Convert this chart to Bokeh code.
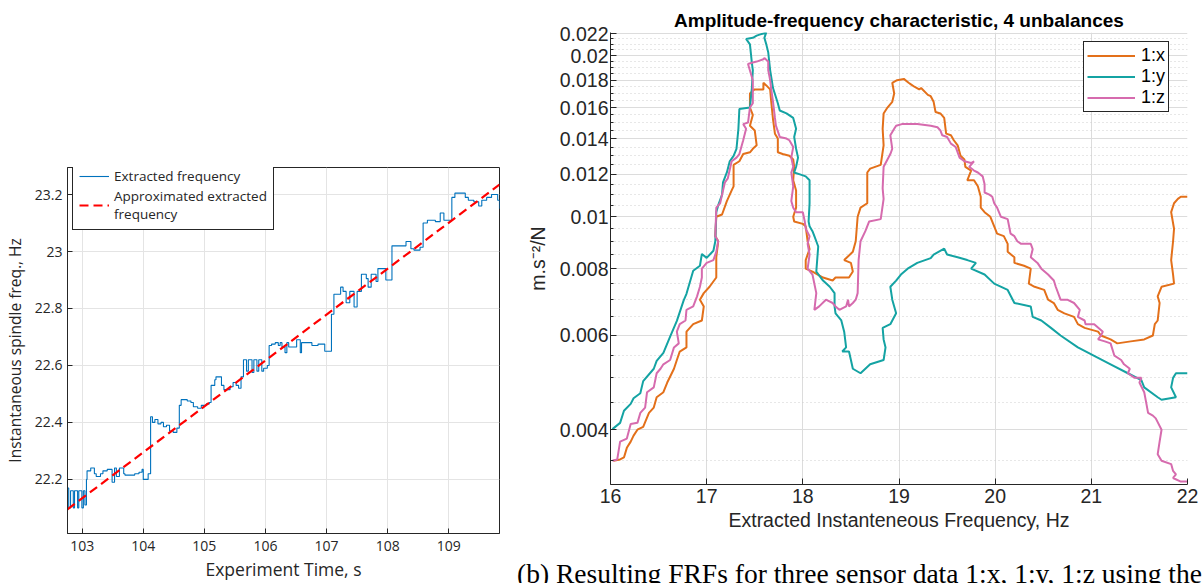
from bokeh.plotting import figure
from bokeh.models import (FixedTicker, CustomJSTickFormatter, Legend, LegendItem,
                          Div, Range1d)
from bokeh.layouts import row, column
from bokeh.embed import file_html
from bokeh.resources import INLINE

# ---------------- Left panel data ----------------
left_xticks = [103, 104, 105, 106, 107, 108, 109]
left_yticks = [22.2, 22.4, 22.6, 22.8, 23.0, 23.2]

t_blue = [102.76, 102.78, 102.81, 102.855, 102.875, 102.925, 102.945, 102.995, 103.02, 103.045,
          103.07, 103.08, 103.14, 103.20, 103.23, 103.30, 103.34, 103.41, 103.49, 103.53,
          103.56, 103.61, 103.68, 103.70, 103.86, 103.93, 103.98, 104.00, 104.05, 104.08,
          104.12, 104.15, 104.19, 104.24, 104.29, 104.33, 104.38, 104.43, 104.49, 104.55,
          104.59, 104.62, 104.72, 104.78, 104.82, 104.89, 104.95, 105.03, 105.08, 105.11,
          105.17, 105.19, 105.28, 105.32, 105.42, 105.47, 105.52, 105.56, 105.60, 105.64,
          105.69, 105.72, 105.78, 105.81, 105.86, 105.89, 105.94, 105.97,
          106.03, 106.06, 106.10, 106.16, 106.21, 106.24, 106.27, 106.32, 106.35, 106.38,
          106.51, 106.57, 106.59, 106.76, 106.86, 106.97, 107.08, 107.12, 107.23, 107.27,
          107.32, 107.38, 107.45, 107.50, 107.57, 107.65, 107.68, 107.73, 107.81, 107.84,
          107.97, 108.07, 108.12, 108.30, 108.38, 108.43, 108.53, 108.58, 108.65, 108.78,
          108.86, 108.92, 109.05, 109.10, 109.27, 109.32, 109.41, 109.49, 109.54, 109.62,
          109.70, 109.80, 109.83]
f_blue = [22.17, 22.10, 22.16, 22.10, 22.16, 22.10, 22.16, 22.10, 22.16, 22.11,
          22.20, 22.23, 22.24, 22.22, 22.21, 22.22, 22.23, 22.235, 22.19, 22.24,
          22.21, 22.24, 22.22, 22.215, 22.22, 22.225, 22.235, 22.20, 22.20, 22.22,
          22.42, 22.40, 22.41, 22.395, 22.40, 22.385, 22.39, 22.37, 22.365, 22.38,
          22.46, 22.48, 22.475, 22.47, 22.455, 22.45, 22.46, 22.465, 22.47, 22.53,
          22.55, 22.56, 22.53, 22.515, 22.525, 22.54, 22.53, 22.52, 22.56, 22.62,
          22.58, 22.62, 22.575, 22.62, 22.58, 22.62, 22.58, 22.59,
          22.60, 22.67, 22.675, 22.68, 22.67, 22.68, 22.665, 22.645, 22.68, 22.665,
          22.69, 22.645, 22.68, 22.67, 22.675, 22.65, 22.78, 22.85, 22.875, 22.86,
          22.82, 22.86, 22.805, 22.86, 22.92, 22.905, 22.875, 22.92, 22.895, 22.94,
          22.90, 23.02, 23.02, 23.035, 23.01, 23.005, 23.015, 23.10, 23.11, 23.105,
          23.135, 23.11, 23.19, 23.205, 23.19, 23.18, 23.175, 23.16, 23.18, 23.19,
          23.20, 23.18, 23.15]

fit_t = [102.76, 109.83]
fit_f = [22.095, 23.235]

# ---------------- Right panel data ----------------
right_xticks = [16, 17, 18, 19, 20, 21, 22]
right_yticks = [0.004, 0.006, 0.008, 0.01, 0.012, 0.014, 0.016, 0.018, 0.02, 0.022]

freq_y = [16.02, 16.10, 16.14, 16.21, 16.24, 16.31, 16.34, 16.45, 16.48, 16.55, 16.62, 16.69, 16.76, 16.79,
          16.86, 16.93, 16.95, 17.0, 17.07, 17.09, 17.10, 17.12, 17.16, 17.17, 17.21, 17.24, 17.28, 17.31,
          17.33, 17.34, 17.45, 17.47, 17.48, 17.47, 17.45, 17.41, 17.48, 17.52, 17.55, 17.59, 17.62, 17.60,
          17.62, 17.64, 17.66, 17.69, 17.74, 17.76, 17.83, 17.90, 17.93, 17.91, 17.93, 17.95, 17.93, 17.91,
          17.97, 18.03, 18.07, 18.07, 18.06, 18.07, 18.10, 18.12, 18.14, 18.16, 18.14, 18.21, 18.28, 18.33,
          18.33, 18.34, 18.40, 18.43, 18.45, 18.41, 18.48, 18.50, 18.52, 18.60, 18.70, 18.84, 18.86, 18.84,
          18.83, 18.91, 18.97, 18.93, 18.91, 18.97, 19.02, 19.09, 19.19, 19.33, 19.36, 19.47, 19.50, 19.61,
          19.71, 19.80, 19.75, 19.89, 19.99, 20.13, 20.20, 20.37, 20.39, 20.48, 20.58, 20.68, 20.86, 21.07,
          21.20, 21.38, 21.52, 21.55, 21.69, 21.73, 21.88, 21.83, 21.85, 21.88, 22.0]
amp_y = [0.00401, 0.00412, 0.00434, 0.00447, 0.00458, 0.00468, 0.00493, 0.0052, 0.00538, 0.00557, 0.00597,
         0.00639, 0.00697, 0.00718, 0.00793, 0.0081, 0.00852, 0.00838, 0.00864, 0.0090, 0.0102, 0.0105,
         0.0110, 0.0116, 0.0121, 0.0127, 0.0130, 0.0134, 0.0146, 0.0159, 0.0160, 0.0174, 0.0188, 0.0194,
         0.0210, 0.0215, 0.0216, 0.0218, 0.0219, 0.0220, 0.0221, 0.0216, 0.0210, 0.0203, 0.0188, 0.0174,
         0.0163, 0.0158, 0.0156, 0.0153, 0.0146, 0.0141, 0.0134, 0.0129, 0.0124, 0.0121, 0.0120, 0.0119,
         0.0117, 0.0106, 0.0098, 0.0096, 0.0094, 0.0092, 0.0090, 0.0088, 0.0079, 0.0076, 0.0074, 0.0072,
         0.0068, 0.0066, 0.0064, 0.0061, 0.0057, 0.0056, 0.0056, 0.0054, 0.0052, 0.0051, 0.0053, 0.0054,
         0.0057, 0.0059, 0.0062, 0.0063, 0.0066, 0.0070, 0.0074, 0.0076, 0.0078, 0.0080, 0.0082, 0.00837,
         0.0085, 0.00872, 0.0085, 0.0084, 0.0083, 0.0082, 0.0080, 0.0078, 0.0075, 0.0073, 0.0069, 0.0068,
         0.0065, 0.0064, 0.0062, 0.0060, 0.0057, 0.00545, 0.0053, 0.0051, 0.00495, 0.0048, 0.0046,
         0.00455, 0.0046, 0.0048, 0.0050, 0.0051, 0.0051]

freq_x = [16.03, 16.10, 16.14, 16.17, 16.21, 16.24, 16.28, 16.34, 16.40, 16.45, 16.48, 16.55, 16.59, 16.66,
          16.69, 16.72, 16.79, 16.79, 16.86, 16.95, 16.97, 16.93, 16.97, 17.03, 17.10, 17.10, 17.12, 17.09,
          17.10, 17.16, 17.21, 17.26, 17.28, 17.28, 17.34, 17.38, 17.45, 17.48, 17.52, 17.50, 17.45, 17.48,
          17.45, 17.45, 17.48, 17.50, 17.59, 17.59, 17.62, 17.66, 17.67, 17.69, 17.71, 17.74, 17.74, 17.79,
          17.86, 17.90, 17.91, 17.90, 17.93, 17.93, 17.90, 17.91, 18.0, 18.03, 18.05, 18.07, 18.03, 18.03,
          18.10, 18.21, 18.31, 18.34, 18.48, 18.52, 18.50, 18.43, 18.52, 18.55, 18.57, 18.60, 18.67, 18.67,
          18.70, 18.81, 18.84, 18.83, 18.84, 18.88, 18.93, 18.95, 18.93, 18.98, 19.05, 19.10, 19.12, 19.16,
          19.21, 19.23, 19.30, 19.33, 19.36, 19.38, 19.43, 19.47, 19.49, 19.54, 19.57, 19.61, 19.64, 19.68,
          19.69, 19.75, 19.71, 19.78, 19.82, 19.85, 19.85, 19.89, 19.95, 19.99, 20.02, 20.09, 20.13, 20.13,
          20.20, 20.20, 20.30, 20.37, 20.35, 20.41, 20.51, 20.55, 20.61, 20.65, 20.72, 20.82, 20.86, 20.93,
          21.07, 21.10, 21.20, 21.27, 21.41, 21.55, 21.64, 21.66, 21.69, 21.71, 21.69, 21.73, 21.86, 21.85,
          21.83, 21.85, 21.86, 21.83, 21.86, 21.90, 21.93, 22.0]
amp_x = [0.0035, 0.00352, 0.00355, 0.0037, 0.0038, 0.0039, 0.0040, 0.00405, 0.0043, 0.0044, 0.0046, 0.0047,
         0.0049, 0.0052, 0.0054, 0.0056, 0.0057, 0.0061, 0.0063, 0.0064, 0.0068, 0.0070, 0.0072, 0.0074,
         0.0077, 0.0084, 0.0090, 0.0092, 0.0100, 0.0101, 0.0107, 0.0112, 0.0114, 0.0125, 0.0127, 0.0131,
         0.0132, 0.0134, 0.0136, 0.0145, 0.0148, 0.0155, 0.0160, 0.0170, 0.0172, 0.0173, 0.0173, 0.0178,
         0.0176, 0.0173, 0.0165, 0.0152, 0.0143, 0.0140, 0.0132, 0.0131, 0.0130, 0.0128, 0.0124, 0.0117,
         0.0112, 0.0104, 0.0100, 0.0098, 0.0097, 0.0096, 0.0090, 0.0087, 0.0083, 0.0080, 0.0079, 0.0077,
         0.0076, 0.0077, 0.0077, 0.0079, 0.0082, 0.0083, 0.0086, 0.0090, 0.0100, 0.0104, 0.0106, 0.0121,
         0.0123, 0.0125, 0.0136, 0.0146, 0.0156, 0.0160, 0.0164, 0.0170, 0.0178, 0.0180, 0.0181, 0.0178,
         0.0177, 0.0175, 0.0173, 0.0174, 0.0169, 0.0168, 0.0164, 0.0157, 0.0156, 0.0153, 0.0143, 0.0142,
         0.0139, 0.0136, 0.0130, 0.0128, 0.0124, 0.0122, 0.0117, 0.0117, 0.0114, 0.0109, 0.0104, 0.0102,
         0.0100, 0.0096, 0.0093, 0.0092, 0.0089, 0.0086, 0.0084, 0.0082, 0.0081, 0.0080, 0.0075, 0.0074,
         0.0073, 0.0070, 0.0069, 0.0067, 0.0066, 0.0065, 0.0063, 0.0062, 0.0061, 0.0060, 0.0059, 0.0058,
         0.00585, 0.0059, 0.0060, 0.0063, 0.0064, 0.0069, 0.0071, 0.0074, 0.0075, 0.0078, 0.0083, 0.0090,
         0.0095, 0.0102, 0.0106, 0.0108, 0.0109, 0.0109]

freq_z = [16.02, 16.07, 16.10, 16.17, 16.21, 16.28, 16.31, 16.36, 16.38, 16.45, 16.48, 16.52, 16.55, 16.62,
          16.66, 16.71, 16.69, 16.72, 16.78, 16.79, 16.86, 16.90, 16.93, 16.95, 16.95, 17.0, 17.07, 17.10,
          17.12, 17.09, 17.10, 17.14, 17.17, 17.19, 17.22, 17.26, 17.31, 17.34, 17.38, 17.41, 17.38, 17.43,
          17.45, 17.48, 17.48, 17.43, 17.47, 17.52, 17.59, 17.60, 17.64, 17.64, 17.66, 17.67, 17.69, 17.71,
          17.72, 17.76, 17.83, 17.86, 17.90, 17.88, 17.90, 17.88, 17.90, 17.88, 17.90, 17.93, 18.0, 18.02,
          18.03, 18.07, 18.05, 18.07, 18.05, 18.10, 18.14, 18.12, 18.17, 18.24, 18.31, 18.34, 18.38, 18.45,
          18.47, 18.48, 18.52, 18.55, 18.57, 18.58, 18.60, 18.65, 18.69, 18.81, 18.84, 18.83, 18.84, 18.88,
          18.91, 18.93, 18.91, 18.95, 18.97, 19.03, 19.19, 19.33, 19.40, 19.43, 19.45, 19.50, 19.54, 19.59,
          19.63, 19.68, 19.75, 19.78, 19.73, 19.78, 19.82, 19.87, 19.89, 19.89, 19.94, 19.97, 19.99, 20.02,
          20.06, 20.13, 20.15, 20.16, 20.20, 20.23, 20.27, 20.37, 20.39, 20.37, 20.44, 20.48, 20.55, 20.61,
          20.63, 20.68, 20.75, 20.82, 20.88, 20.86, 20.93, 20.94, 21.03, 21.12, 21.10, 21.07, 21.14, 21.20,
          21.24, 21.31, 21.34, 21.40, 21.38, 21.45, 21.52, 21.50, 21.55, 21.57, 21.59, 21.64, 21.67, 21.73,
          21.71, 21.69, 21.73, 21.83, 21.85, 21.88, 21.85, 21.93, 22.0]
amp_z = [0.0035, 0.00352, 0.0038, 0.00385, 0.0041, 0.00412, 0.0043, 0.0044, 0.0047, 0.0048, 0.0051, 0.0052,
         0.0053, 0.0054, 0.0057, 0.0058, 0.0061, 0.0063, 0.0064, 0.0067, 0.0068, 0.0071, 0.0074, 0.0077,
         0.0080, 0.0082, 0.0083, 0.0086, 0.0090, 0.0092, 0.0104, 0.0106, 0.0112, 0.0116, 0.0118, 0.0127,
         0.0129, 0.0131, 0.0139, 0.0146, 0.0149, 0.0150, 0.0160, 0.0163, 0.0180, 0.0193, 0.0194, 0.0195,
         0.0197, 0.0198, 0.0195, 0.0188, 0.0180, 0.0174, 0.0164, 0.0153, 0.0148, 0.0141, 0.0140, 0.0139,
         0.0135, 0.0129, 0.0124, 0.0121, 0.0114, 0.0107, 0.0104, 0.0102, 0.0102, 0.0098, 0.0095, 0.0092,
         0.0089, 0.0085, 0.0080, 0.0078, 0.0072, 0.0067, 0.0068, 0.0070, 0.0069, 0.0068, 0.0067, 0.0068,
         0.0070, 0.0068, 0.0069, 0.0070, 0.0072, 0.0083, 0.0090, 0.0094, 0.0098, 0.0099, 0.0108, 0.0113,
         0.0124, 0.0128, 0.0131, 0.0134, 0.0142, 0.0146, 0.0148, 0.0149, 0.0149, 0.0148, 0.0147, 0.0145,
         0.0142, 0.0141, 0.0137, 0.0135, 0.0129, 0.0127, 0.0126, 0.0127, 0.0124, 0.0122, 0.0121, 0.0119,
         0.0115, 0.0111, 0.0110, 0.0109, 0.0106, 0.0104, 0.0100, 0.0099, 0.0095, 0.0093, 0.0092, 0.0090,
         0.0089, 0.0089, 0.0087, 0.0084, 0.0082, 0.0080, 0.0078, 0.0076, 0.0074, 0.0070, 0.0070, 0.0069,
         0.0067, 0.0065, 0.0064, 0.0063, 0.0063, 0.0061, 0.0060, 0.0059, 0.00585, 0.0058, 0.0055, 0.0054,
         0.0053, 0.0052, 0.0051, 0.0050, 0.0050, 0.0049, 0.0047, 0.0045, 0.0043, 0.00425, 0.0042, 0.0040,
         0.0038, 0.0036, 0.0035, 0.00345, 0.00335, 0.0033, 0.00325, 0.0032, 0.0032]

right_minor = [round(0.0035 + 0.0005 * i, 4) for i in range(37)]
right_minor = [m for m in right_minor if all(abs(m - t) > 1e-9 for t in right_yticks)]

caption = "(b) Resulting FRFs for three sensor data 1:x, 1:y, 1:z using the"

fmt = "return String(Math.round(tick*100000)/100000);"
AX = "#262626"
TXT = "#262626"

# ---------------- Left figure ----------------
W1 = 520
p1 = figure(width=W1, height=583, x_range=Range1d(102.76, 109.83), y_range=Range1d(22.01, 23.295),
            output_backend="svg", toolbar_location=None,
            min_border_left=63, min_border_right=21, min_border_top=167, min_border_bottom=50)
p1.background_fill_color = "white"
p1.border_fill_color = "white"
p1.outline_line_color = AX
p1.outline_line_alpha = 1

for ax in (p1.xaxis[0], p1.yaxis[0]):
    ax.major_tick_in = 5
    ax.major_tick_out = 0
    ax.minor_tick_line_color = None
    ax.axis_line_color = AX
    ax.major_tick_line_color = AX
    ax.major_label_text_font = "Open Sans"
    ax.major_label_text_font_size = "14px"
    ax.major_label_text_color = TXT
    ax.axis_label_text_font = "Open Sans"
    ax.axis_label_text_font_style = "normal"
    ax.axis_label_text_color = TXT
    ax.formatter = CustomJSTickFormatter(code=fmt)
p1.xaxis.axis_label_text_font_size = "17.5px"
p1.yaxis.axis_label_text_font_size = "15.5px"
p1.xaxis.ticker = FixedTicker(ticks=left_xticks)
p1.yaxis.ticker = FixedTicker(ticks=left_yticks)
p1.xaxis.axis_label = "Experiment Time, s"
p1.yaxis.axis_label = "Instantaneous spindle freq., Hz"
p1.xaxis.major_label_standoff = 7
p1.yaxis.major_label_standoff = 5
p1.xaxis.axis_label_standoff = 3
p1.yaxis.axis_label_standoff = 6

p1.xgrid.grid_line_color = "#e4e4e4"
p1.ygrid.grid_line_color = "#e4e4e4"

r_blue = p1.step(t_blue, f_blue, mode="after", line_color="#0072BD", line_width=1.1)
r_red = p1.line(fit_t, fit_f, line_color="#FF0000", line_width=2.2, line_dash="9 5")

leg1 = Legend(items=[LegendItem(label="Extracted frequency", renderers=[r_blue]),
                     LegendItem(label="Approximated extracted\nfrequency", renderers=[r_red])],
              location=(5, 303), label_text_font="Open Sans", label_text_font_size="13.5px",
              label_text_color=TXT, glyph_width=30, label_standoff=5, padding=6, spacing=1,
              border_line_color=AX, border_line_alpha=1, background_fill_alpha=1, margin=0)
p1.add_layout(leg1)

# ---------------- Right figure ----------------
H2 = 559
p2 = figure(width=1203 - W1, height=H2, x_range=Range1d(16, 22), y_range=Range1d(0.00316, 0.0221),
            y_axis_type="log", output_backend="svg", toolbar_location=None,
            min_border_left=90, min_border_right=16, min_border_top=32, min_border_bottom=H2 - 484)
p2.title.text = "Amplitude-frequency characteristic, 4 unbalances"
p2.title.align = "center"
p2.title.text_font = "Liberation Sans"
p2.title.text_font_size = "19px"
p2.title.text_font_style = "bold"
p2.title.text_color = "black"
p2.title.standoff = 3
p2.outline_line_color = None
p2.border_fill_color = "white"

for ax in (p2.xaxis[0], p2.yaxis[0]):
    ax.major_tick_in = 6
    ax.major_tick_out = 0
    ax.axis_line_color = AX
    ax.major_tick_line_color = AX
    ax.major_label_text_font = "Liberation Sans"
    ax.major_label_text_font_size = "19.5px"
    ax.major_label_text_color = TXT
    ax.axis_label_text_font = "Liberation Sans"
    ax.axis_label_text_font_size = "19.5px"
    ax.axis_label_text_font_style = "normal"
    ax.axis_label_text_color = TXT
    ax.formatter = CustomJSTickFormatter(code=fmt)
p2.xaxis.ticker = FixedTicker(ticks=right_xticks)
p2.xaxis.minor_tick_line_color = None
p2.yaxis.ticker = FixedTicker(ticks=right_yticks, minor_ticks=right_minor)
p2.yaxis.minor_tick_in = 3
p2.yaxis.minor_tick_out = 0
p2.yaxis.minor_tick_line_color = AX
p2.xaxis.axis_label = "Extracted Instanteneous Frequency, Hz"
p2.yaxis.axis_label = "m.s\u207b\u00b2/N"
p2.xaxis.major_label_standoff = 4
p2.yaxis.major_label_standoff = 2
p2.xaxis.axis_label_standoff = 3
p2.yaxis.axis_label_standoff = 8

p2.xgrid.grid_line_color = "#dcdcdc"
p2.ygrid.grid_line_color = "#dcdcdc"
p2.ygrid.minor_grid_line_color = "#cfcfcf"
p2.ygrid.minor_grid_line_dash = "1 3"

c_x, c_y, c_z = "#E3701A", "#14A3A3", "#D66BAE"
rx = p2.line(freq_x, amp_x, line_color=c_x, line_width=2)
ry = p2.line(freq_y, amp_y, line_color=c_y, line_width=2)
rz = p2.line(freq_z, amp_z, line_color=c_z, line_width=2)

leg2 = Legend(items=[LegendItem(label="1:x", renderers=[rx]),
                     LegendItem(label="1:y", renderers=[ry]),
                     LegendItem(label="1:z", renderers=[rz])],
              location=(473, 372), label_text_font="Liberation Sans", label_text_font_size="18px",
              label_text_color="black", glyph_width=48, label_standoff=6, padding=3, spacing=0,
              label_height=17, glyph_height=17,
              border_line_color=AX, border_line_alpha=1, background_fill_alpha=1, margin=0)
p2.add_layout(leg2)

cap_div = Div(text=('<span style="white-space:nowrap;font-family:\'Liberation Serif\';'
                    'font-size:27.5px;line-height:30px;color:black;position:relative;left:-3px;">'
                    + caption + '</span>'),
              width=1203 - W1, height=583 - H2, margin=(0, 0, 0, 0))

layout = row(column(p1), column(p2, cap_div))
open("out.html", "w").write(file_html(layout, INLINE))
